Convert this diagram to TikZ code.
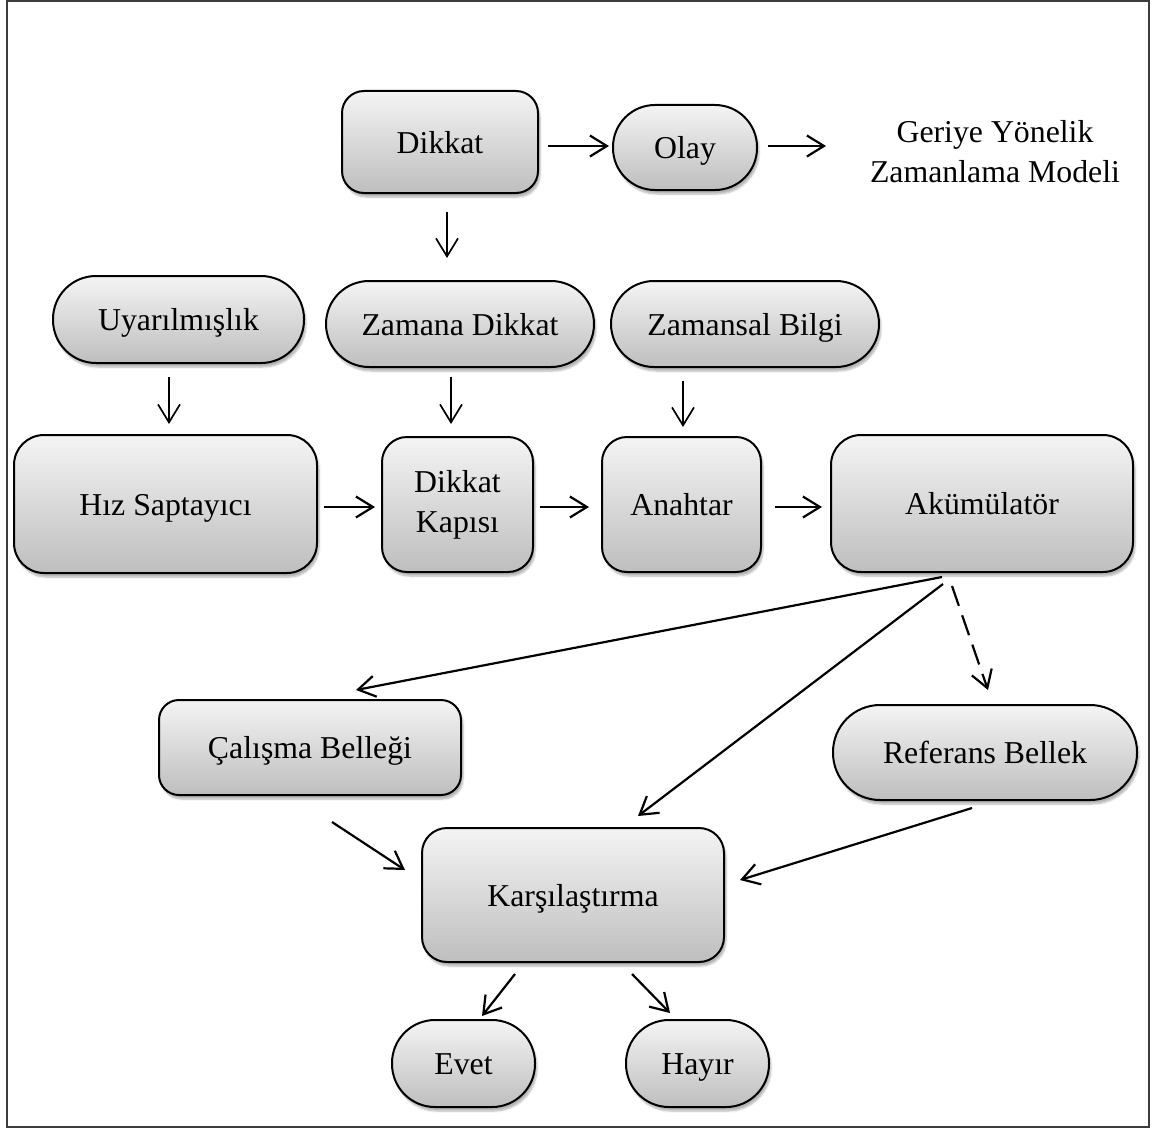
\documentclass[tikz,border=0pt]{standalone}
\usepackage{fontspec}
\setmainfont{Liberation Serif}
\usetikzlibrary{arrows.meta,shadows.blur,calc}
\definecolor{topg}{RGB}{244,244,244}
\definecolor{botg}{RGB}{190,190,190}
\definecolor{framec}{RGB}{60,60,60}
\begin{document}
\begin{tikzpicture}[x=1pt,y=-1pt,
  box/.style={draw=black,line width=2pt,top color=topg,bottom color=botg,
    inner sep=0pt,align=center,font=\fontsize{31.8}{40}\selectfont,
    blur shadow={shadow xshift=2pt,shadow yshift=-4pt,shadow blur steps=6,shadow opacity=30}},
  sline/.style={text height=30pt,text depth=8pt},
  rbox/.style={box,sline,rounded corners=#1},
  pill/.style={box,sline,rounded corners=#1},
  arr/.style={line width=2.2pt,-{Straight Barb[length=17pt,width=21pt,line width=2.2pt]}},
  varr/.style={line width=1.7pt,-{Straight Barb[length=18pt,width=22pt,line width=1.7pt]}},
  darr/.style={arr,dash pattern=on 21pt off 10pt}]
\useasboundingbox (0,0) rectangle (1155,1129);
\draw[framec,line width=2pt] (7,1) rectangle (1149,1127);

% nodes
\node[rbox=22pt,minimum width=196pt,minimum height=102pt] (dikkat) at (440,142) {Dikkat};
\node[pill=42pt,minimum width=144pt,minimum height=85pt] (olay) at (685,147.5) {Olay};
\node[align=center,font=\fontsize{31.8}{40}\selectfont,inner sep=0pt] (geriye) at (995,152) {Geriye Yönelik\\Zamanlama Modeli};

\node[pill=43pt,minimum width=251pt,minimum height=87pt] (uyar) at (178.5,319.5) {Uyarılmışlık};
\node[pill=43pt,minimum width=268pt,minimum height=86pt] (zdik) at (460,324) {Zamana Dikkat};
\node[pill=43pt,minimum width=268pt,minimum height=86pt] (zbil) at (745,324) {Zamansal Bilgi};

\node[rbox=30pt,minimum width=303pt,minimum height=138pt] (hiz) at (165.5,504) {Hız Saptayıcı};
\node[box,rounded corners=25pt,minimum width=151pt,minimum height=135pt] (kapi) at (457.5,504.5) {Dikkat\\Kapısı};
\node[rbox=25pt,minimum width=159pt,minimum height=135pt] (anahtar) at (681.5,504.5) {Anahtar};
\node[rbox=30pt,minimum width=302pt,minimum height=137pt] (akum) at (982,503.5) {Akümülatör};

\node[rbox=20pt,minimum width=302pt,minimum height=95pt] (calisma) at (310,747.5) {Çalışma Belleği};
\node[pill=47pt,minimum width=304pt,minimum height=95pt] (referans) at (985,752.5) {Referans Bellek};
\node[rbox=25pt,minimum width=302pt,minimum height=134pt] (karsi) at (573,895) {Karşılaştırma};

\node[pill=43pt,minimum width=143pt,minimum height=87pt] (evet) at (463.5,1063.5) {Evet};
\node[pill=43pt,minimum width=143pt,minimum height=87pt] (hayir) at (697.5,1063.5) {Hayır};

% connector end points
\coordinate (dO1) at (548,146);   \coordinate (dO2) at (609,146);
\coordinate (oG1) at (768,146);   \coordinate (oG2) at (826,146);
\coordinate (dZ1) at (447,212);   \coordinate (dZ2) at (447,258);
\coordinate (uH1) at (169,377);   \coordinate (uH2) at (169,424);
\coordinate (zK1) at (451,377);   \coordinate (zK2) at (451,424);
\coordinate (bA1) at (683,381);   \coordinate (bA2) at (683,427);
\coordinate (hK1) at (324,507);   \coordinate (hK2) at (375,507);
\coordinate (kA1) at (540,507);   \coordinate (kA2) at (589,507);
\coordinate (aA1) at (775,507);   \coordinate (aA2) at (822,507);
\coordinate (aC1) at (942,577);   \coordinate (aC2) at (356,690);
\coordinate (aK1) at (943,584);   \coordinate (aK2) at (638,816);
\coordinate (aR1) at (952,586);   \coordinate (aR2) at (988,690);
\coordinate (cK1) at (332,822);   \coordinate (cK2) at (405,870);
\coordinate (rK1) at (972,808);   \coordinate (rK2) at (740,880);
\coordinate (kE1) at (515,974);   \coordinate (kE2) at (482,1016);
\coordinate (kH1) at (632,974);   \coordinate (kH2) at (670,1013);

% connectors
\draw[arr] (dO1) -- (dO2);
\draw[arr] (oG1) -- (oG2);
\draw[varr] (dZ1) -- (dZ2);
\draw[varr] (uH1) -- (uH2);
\draw[varr] (zK1) -- (zK2);
\draw[varr] (bA1) -- (bA2);
\draw[arr] (hK1) -- (hK2);
\draw[arr] (kA1) -- (kA2);
\draw[arr] (aA1) -- (aA2);
\draw[arr] (aC1) -- (aC2);
\draw[arr] (aK1) -- (aK2);
\draw[darr] (aR1) -- (aR2);
\draw[arr] (cK1) -- (cK2);
\draw[arr] (rK1) -- (rK2);
\draw[arr] (kE1) -- (kE2);
\draw[arr] (kH1) -- (kH2);
\end{tikzpicture}
\end{document}
